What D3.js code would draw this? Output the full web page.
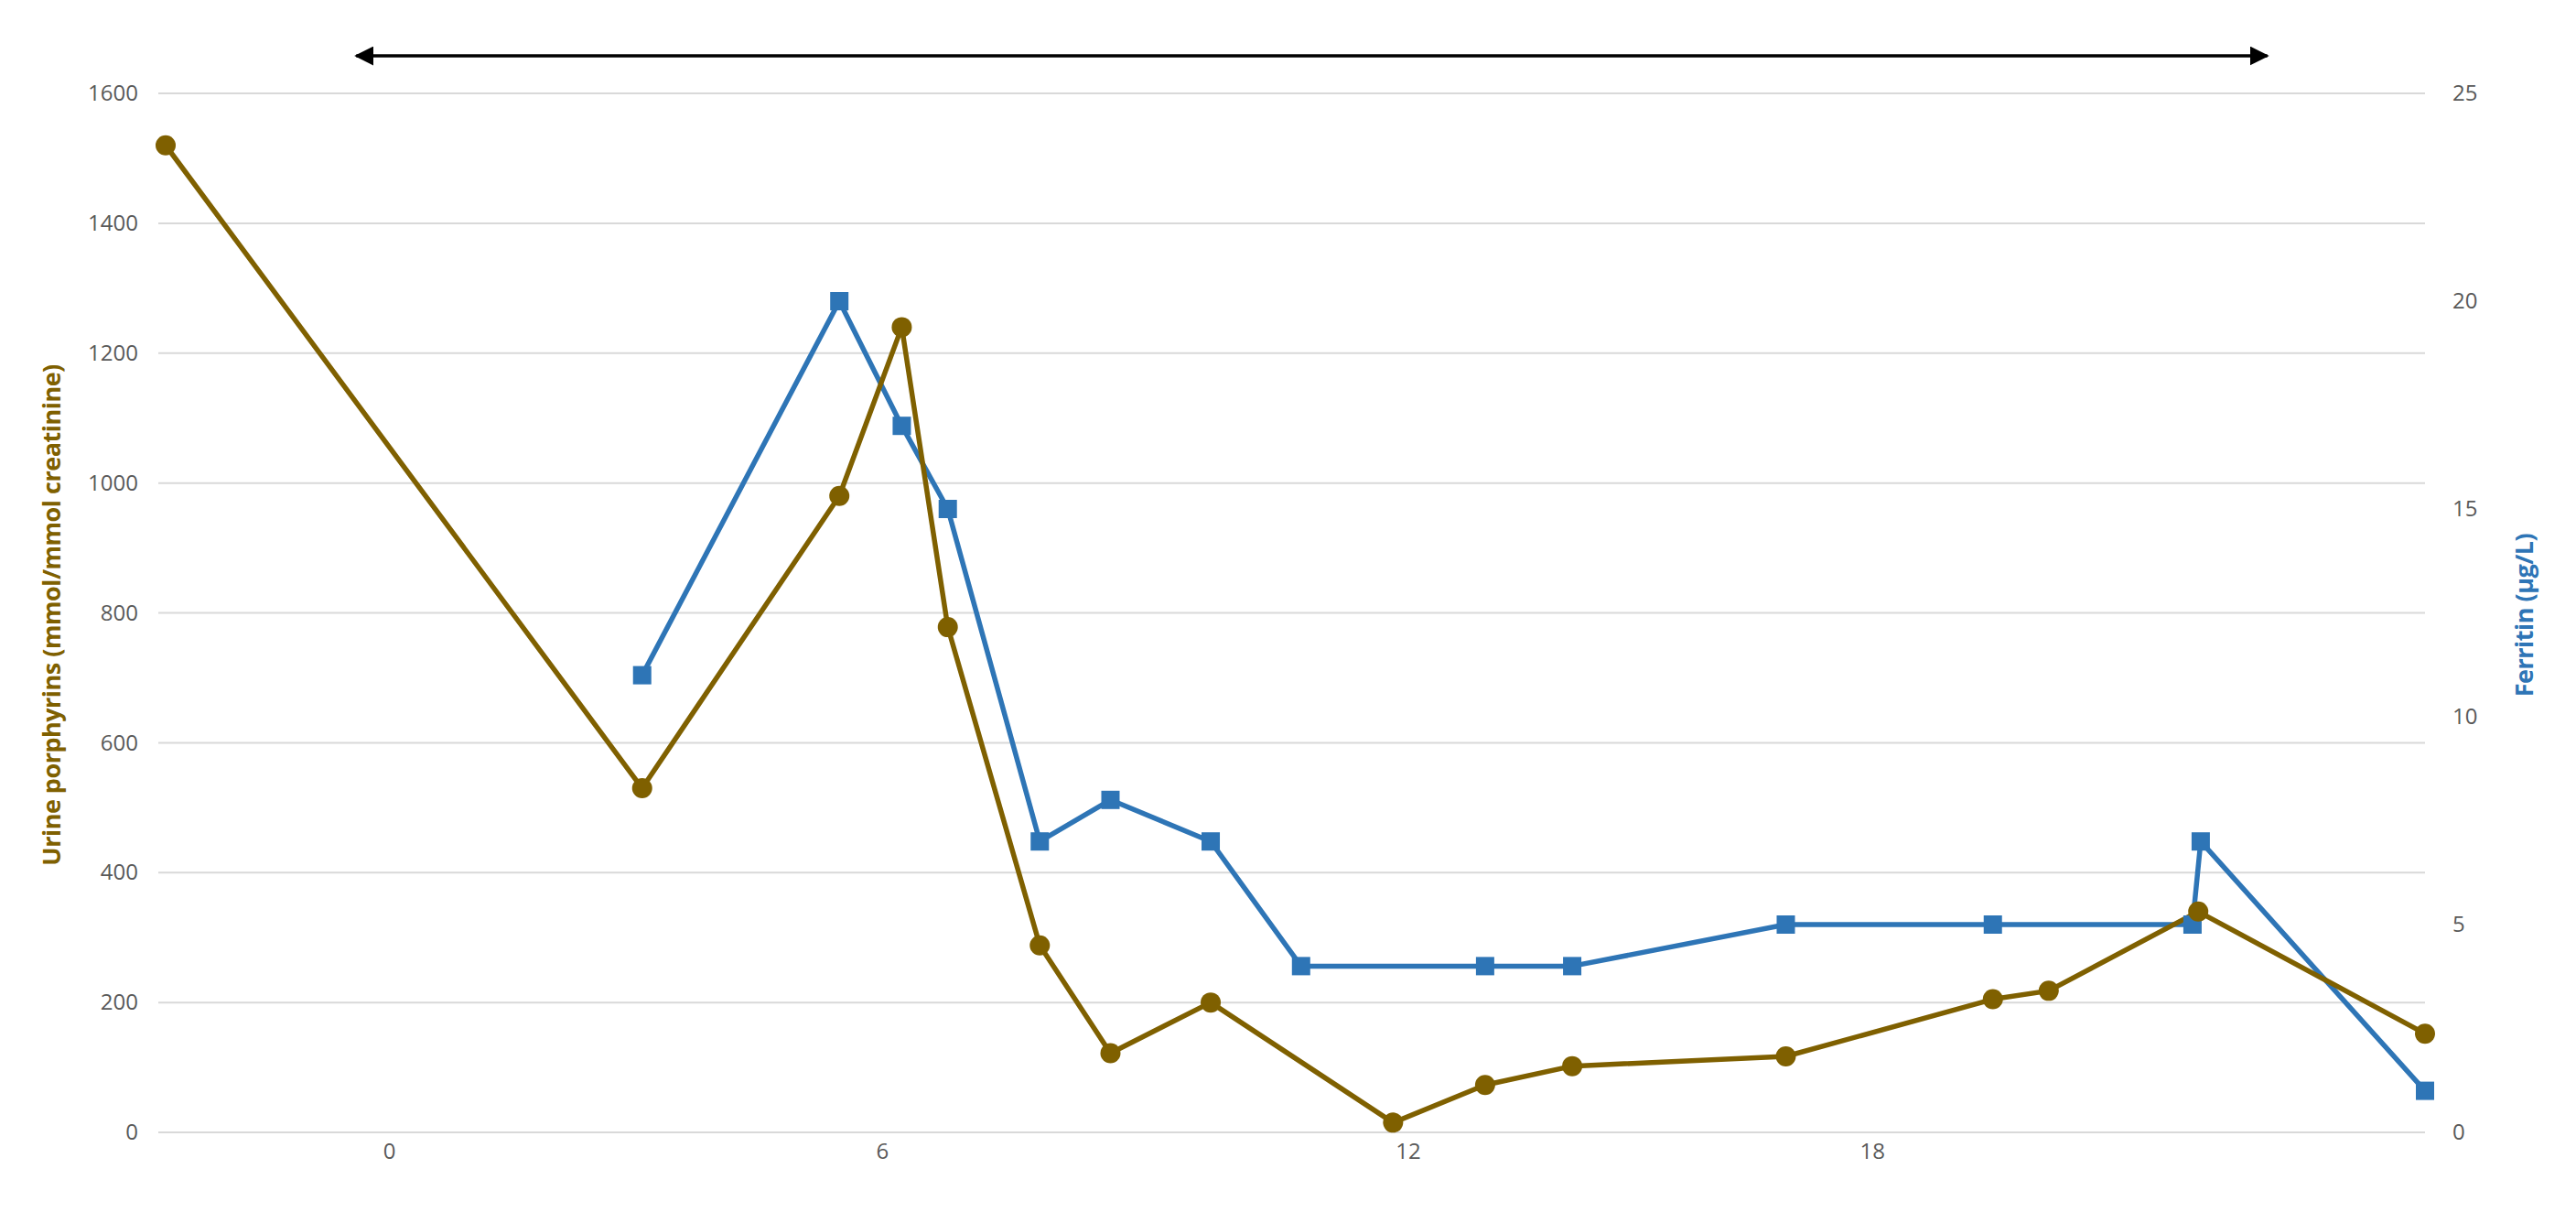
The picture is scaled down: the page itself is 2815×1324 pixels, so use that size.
<!DOCTYPE html>
<html><head><meta charset="utf-8">
<script src="https://cdn.jsdelivr.net/npm/d3@7"></script>
<style>body{margin:0;background:#fff}svg{display:block}</style>
</head><body>
<svg id="c" width="2815" height="1324"></svg>
<script>
const porphX = [-2.72,3.08,5.48,6.24,6.8,7.92,8.78,10,12.22,13.34,14.4,17,19.52,20.2,22.02,24.78];
const porphY = [1520,530,980,1240,778,288,122,200,15,73,102,117,205,218,340,152];
const ferrX = [3.08,5.48,6.24,6.8,7.92,8.78,10,11.1,13.34,14.4,17,19.52,21.95,22.05,24.78];
const ferrY = [11,20,17,15,7,8,7,4,4,4,5,5,5,7,1];
const xTicks = [0,6,12,18];
const xTickPos = [0,6,12.4,18.05];
const leftTicks = [0,200,400,600,800,1000,1200,1400,1600];
const rightTicks = [0,5,10,15,20,25];

const svg = d3.select("#c");
const L=181,R=2650,T=102,B=1237;
const x = d3.scaleLinear().domain([-2.72,24.78]).range([L,R]);
const yL = d3.scaleLinear().domain([0,1600]).range([B,T]);
const yR = d3.scaleLinear().domain([0,25]).range([B,T]);
const brown="#7f6000", blue="#2e75b6", gray="#595959";

svg.append("g").selectAll("line").data(leftTicks).join("line")
  .attr("x1",L-8).attr("x2",R).attr("y1",d=>yL(d)).attr("y2",d=>yL(d))
  .attr("stroke","#d9d9d9").attr("stroke-width",2);

const gl = svg.append("g").attr("transform",`translate(${L-30},0)`)
  .call(d3.axisLeft(yL).tickValues(leftTicks).tickFormat(d3.format("d")).tickSize(0).tickPadding(0));
const gr = svg.append("g").attr("transform",`translate(${R+30},0)`)
  .call(d3.axisRight(yR).tickValues(rightTicks).tickSize(0).tickPadding(0));
const gx = svg.append("g").attr("transform",`translate(0,${B+12})`)
  .call(d3.axisBottom(x).tickValues(xTickPos).tickFormat((d,i)=>xTicks[i]).tickSize(0).tickPadding(0));
[gl,gr,gx].forEach(g=>{g.select(".domain").remove();
  g.selectAll("text").attr("fill",gray).style("font-family","Open Sans").style("font-size","24px");});

svg.append("text").attr("transform",`translate(66,672) rotate(-90)`).attr("text-anchor","middle")
  .attr("fill",brown).style("font-family","Open Sans").style("font-weight","bold").style("font-size","27px")
  .style("letter-spacing","-0.5px").text("Urine porphyrins (mmol/mmol creatinine)");
svg.append("text").attr("transform",`translate(2768,672) rotate(-90)`).attr("text-anchor","middle")
  .attr("fill",blue).style("font-family","Open Sans").style("font-weight","bold").style("font-size","27px")
  .style("letter-spacing","-0.5px").text("Ferritin (µg/L)");

const defs=svg.append("defs");
defs.append("marker").attr("id","ah").attr("viewBox","0 0 10 10").attr("refX",9).attr("refY",5)
 .attr("markerWidth",6).attr("markerHeight",6).attr("orient","auto-start-reverse")
 .append("path").attr("d","M0,0L10,5L0,10z").attr("fill","#000");
svg.append("line").attr("x1",x(-0.4)).attr("x2",x(22.86)).attr("y1",61).attr("y2",61)
 .attr("stroke","#000").attr("stroke-width",3.5)
 .attr("marker-start","url(#ah)").attr("marker-end","url(#ah)");

const pd = porphX.map((v,i)=>[v,porphY[i]]);
const fd = ferrX.map((v,i)=>[v,ferrY[i]]);
svg.append("path").datum(fd).attr("fill","none").attr("stroke",blue).attr("stroke-width",5.5)
 .attr("stroke-linejoin","round").attr("d",d3.line().x(d=>x(d[0])).y(d=>yR(d[1])));
svg.append("path").datum(pd).attr("fill","none").attr("stroke",brown).attr("stroke-width",5.5)
 .attr("stroke-linejoin","round").attr("d",d3.line().x(d=>x(d[0])).y(d=>yL(d[1])));
svg.append("g").selectAll("rect").data(fd).join("rect")
 .attr("x",d=>x(d[0])-10).attr("y",d=>yR(d[1])-10).attr("width",20).attr("height",20).attr("fill",blue);
svg.append("g").selectAll("circle").data(pd).join("circle")
 .attr("cx",d=>x(d[0])).attr("cy",d=>yL(d[1])).attr("r",11).attr("fill",brown);
</script></body></html>
